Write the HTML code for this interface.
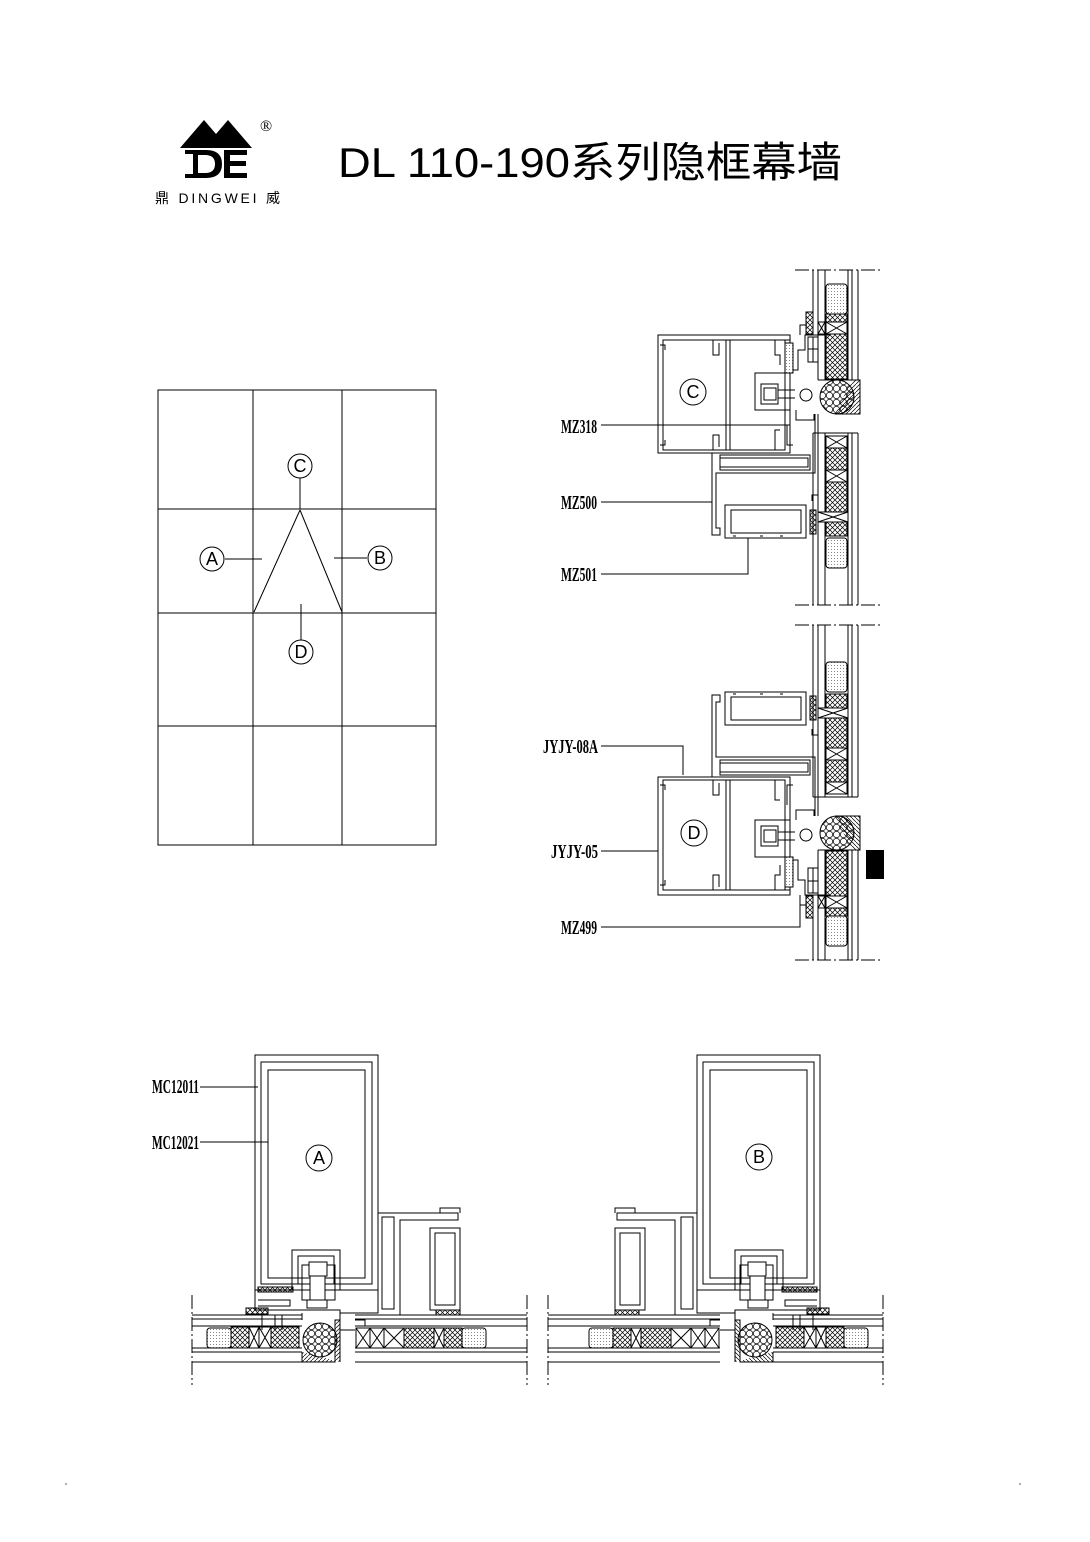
<!DOCTYPE html>
<html><head><meta charset="utf-8"><style>
html,body{margin:0;padding:0;background:#fff;}
svg{display:block;}
.l{font-family:"Liberation Serif",serif;font-weight:bold;font-size:20px;}
.c{font-family:"Liberation Sans",sans-serif;font-size:18px;}
</style></head><body>
<svg width="1090" height="1542" viewBox="0 0 1090 1542" xmlns="http://www.w3.org/2000/svg">
<defs>
<pattern id="hx" width="5" height="5" patternUnits="userSpaceOnUse">
<path d="M0,0L5,5M5,0L0,5" stroke="#000" stroke-width="0.7"/>
</pattern>
<pattern id="dt" width="3" height="3" patternUnits="userSpaceOnUse">
<rect width="3" height="3" fill="#fff"/><rect width="1" height="1" fill="#888"/>
</pattern>
<pattern id="cir" width="7" height="7" patternUnits="userSpaceOnUse">
<rect width="7" height="7" fill="#fff"/><circle cx="3.5" cy="3.5" r="3.2" fill="none" stroke="#000" stroke-width="0.7"/>
</pattern>
<pattern id="dg" width="4" height="4" patternUnits="userSpaceOnUse">
<path d="M0,4L4,0" stroke="#000" stroke-width="0.7"/>
</pattern>
</defs>

<!-- Section C (top-right, vertical) -->
<g id="secC" fill="none" stroke="#000" stroke-width="1">
 <line x1="795" y1="270" x2="880" y2="270" stroke-dasharray="14,3,2,3"/>
 <line x1="795" y1="605" x2="880" y2="605" stroke-dasharray="14,3,2,3"/>
 <path d="M813,270V333M818,270V380M825,270V380M848,270V380M852,270V380M858,270V380"/>
 <path d="M818,380H858"/>
 <rect x="826" y="284" width="21" height="30" fill="url(#dt)" rx="3"/>
 <rect x="826" y="314" width="21" height="8" fill="url(#hx)"/>
 <rect x="826" y="322" width="21" height="12" fill="#fff"/>
 <path d="M826,322L847,334M847,322L826,334"/>
 <rect x="826" y="334" width="21" height="45" fill="url(#hx)"/>
 <rect x="818" y="322" width="7" height="12" fill="#fff"/>
 <path d="M818,322L825,334M825,322L818,334"/>
 <rect x="806" y="312" width="7" height="22" fill="url(#hx)"/>
 <path d="M806,312H813M806,312V333"/>
 <circle cx="837" cy="397" r="17" fill="url(#cir)"/>
 <path d="M852,380H860V414H835" fill="url(#dg)"/>
 <path d="M813,433V605M818,433V605M825,433V605M848,433V605M852,433V605M858,433V605M813,433H858"/>
 <rect x="826" y="436" width="21" height="12" fill="#fff"/>
 <path d="M826,436L847,448M847,436L826,448"/>
 <rect x="826" y="448" width="21" height="22" fill="url(#hx)"/>
 <rect x="826" y="470" width="21" height="12" fill="#fff"/>
 <path d="M826,470L847,482M847,470L826,482"/>
 <rect x="826" y="482" width="21" height="30" fill="url(#hx)"/>
 <rect x="818" y="512" width="30" height="10" fill="#fff"/>
 <path d="M818,512L848,522M848,512L818,522"/>
 <rect x="826" y="522" width="21" height="14" fill="url(#hx)"/>
 <rect x="826" y="538" width="21" height="30" fill="url(#dt)" rx="3"/>
 <rect x="810" y="510" width="6" height="24" fill="url(#hx)"/>
 <rect x="658" y="335" width="132" height="118" fill="#fff"/>
 <rect x="663" y="340" width="122" height="110"/>
 <path d="M726,340V450M730,340V450"/>
 <path d="M713,340V355H719V343M713,450V435H719V447"/>
 <path d="M660,345h5v5M660,445h5v-5"/>
 <path d="M775,340V355H780V365M775,450V430H780"/>
 <path d="M755,373H790V410H755Z"/>
 <rect x="761" y="384" width="17" height="20" fill="#fff"/>
 <rect x="764" y="388" width="12" height="12" fill="#fff"/>
 <path d="M778,390H795M778,398H795"/>
 <circle cx="806" cy="395" r="6"/>
 <path d="M785,340h5v30h8v-20h7v-15h25M800,335v-10h7"/>
 <rect x="785" y="343" width="8" height="30" fill="url(#dt)"/>
 <rect x="808" y="337" width="10" height="25" fill="#fff"/>
 <path d="M808,349H818M813,337V362"/>
 <path d="M818,337V380"/>
 <path d="M796,410V420H814V414"/>
 <path d="M787,425v20h6"/>
 <path d="M712,453V535H720V528H716V473H815V414"/>
 <path d="M720,455H810V470H720Z"/>
 <path d="M720,458H808V467H720Z"/>
 <path d="M818,414V495H812V501"/>
 <path d="M725,505H806V538H725Z"/>
 <path d="M731,510H801V533H731Z"/>
 <path d="M733,536h3M760,536h3M780,536h3"/>
</g>
<g stroke="#000" stroke-width="1" fill="none">
 <path d="M601,425H790"/>
 <path d="M601,502H712"/>
 <path d="M601,574H748V538"/>
</g>

<use href="#secC" transform="translate(0,1230) scale(1,-1)"/>
<g stroke="#000" stroke-width="1" fill="none">
 <path d="M601,746H683V775"/>
 <path d="M601,851H658"/>
 <path d="M601,927H800V897"/>
</g>
<rect x="866" y="850" width="18" height="29" fill="#000"/>

<g id="secA" fill="none" stroke="#000" stroke-width="1">
 <path d="M192,1295V1385M527,1295V1385" stroke-dasharray="14,3,2,3"/>
 <path d="M192,1315H302M192,1319H302M192,1326H302M192,1348H302M192,1352H302M192,1362H302"/>
 <path d="M355,1315H527M355,1319H527M355,1326H527M355,1348H527M355,1352H527M355,1362H527"/>
 <rect x="207" y="1328" width="24" height="20" fill="url(#dt)" rx="3"/>
 <rect x="231" y="1327" width="18" height="21" fill="url(#hx)"/>
 <rect x="249" y="1327" width="10" height="21" fill="#fff"/><path d="M249,1327L259,1348M259,1327L249,1348"/>
 <rect x="259" y="1327" width="12" height="21" fill="#fff"/><path d="M259,1327L271,1348M271,1327L259,1348"/>
 <rect x="271" y="1327" width="28" height="21" fill="url(#hx)"/>
 <rect x="246" y="1308" width="22" height="6" fill="url(#hx)"/>
 <circle cx="320" cy="1340" r="17" fill="url(#cir)"/>
 <path d="M302,1352V1362H335V1320H340V1362" fill="url(#dg)"/>
 <rect x="356" y="1328" width="14" height="20" fill="#fff"/><path d="M356,1328L370,1348M370,1328L356,1348"/>
 <rect x="370" y="1328" width="14" height="20" fill="#fff"/><path d="M370,1328L384,1348M384,1328L370,1348"/>
 <rect x="384" y="1328" width="20" height="20" fill="#fff"/><path d="M384,1328L404,1348M404,1328L384,1348"/>
 <rect x="404" y="1328" width="30" height="20" fill="url(#hx)"/>
 <rect x="434" y="1328" width="10" height="20" fill="#fff"/><path d="M434,1328L444,1348M444,1328L434,1348"/>
 <rect x="444" y="1328" width="18" height="20" fill="url(#hx)"/>
 <rect x="462" y="1328" width="24" height="20" fill="url(#dt)" rx="3"/>
 <rect x="436" y="1310" width="24" height="5" fill="url(#hx)"/>
 <rect x="255" y="1055" width="123" height="235" fill="#fff"/>
 <rect x="261" y="1062" width="111" height="222"/>
 <rect x="268" y="1070" width="97" height="208"/>
 <path d="M292,1290V1250H340V1290"/>
 <path d="M298,1284V1256H334V1284"/>
 <path d="M302,1265H335V1300H302Z"/>
 <rect x="309" y="1262" width="18" height="14" fill="#fff"/>
 <rect x="310" y="1276" width="15" height="24" fill="#fff"/>
 <rect x="307" y="1300" width="20" height="8"/>
 <path d="M255,1290V1310H340V1313H378V1290"/>
 <rect x="258" y="1287" width="35" height="5" fill="url(#hx)"/>
 <path d="M258,1300H290V1306H258"/>
 <path d="M262,1315V1330M282,1315V1330M275,1315V1330M302,1313V1320"/>
 <path d="M340,1313V1330H355"/>
 <path d="M378,1213H458V1220H400V1315H378"/>
 <rect x="382" y="1217" width="12" height="92"/>
 <rect x="430" y="1228" width="30" height="82"/>
 <rect x="435" y="1233" width="20" height="72"/>
 <path d="M440,1213v-5h20v5"/>
 <path d="M355,1320h10v6"/>
</g>
<use href="#secA" transform="translate(1075,0) scale(-1,1)"/>
<g stroke="#000" stroke-width="1" fill="none">
 <path d="M200,1087H258M200,1142H268"/>
</g>

<g fill="none" stroke="#000" stroke-width="1">
 <rect x="158" y="390" width="278" height="455"/>
 <path d="M253,390V845M342,390V845M158,509H436M158,613H436M158,726H436"/>
 <path d="M300,510L254,612M300,510L342,612"/>
 <path d="M300,478V509M225,559H262M334,558H367M301,604V640"/>
 <circle cx="300" cy="466" r="12"/>
 <circle cx="212" cy="559" r="12"/>
 <circle cx="380" cy="558" r="12"/>
 <circle cx="301" cy="652" r="12"/>
 <circle cx="693" cy="392" r="13" fill="#fff"/>
 <circle cx="694" cy="833" r="13" fill="#fff"/>
 <circle cx="319" cy="1158" r="13" fill="#fff"/>
 <circle cx="759" cy="1157" r="13" fill="#fff"/>
</g>
<g class="c" text-anchor="middle" font-size="16">
 <text x="300" y="472">C</text>
 <text x="212" y="565">A</text>
 <text x="380" y="564">B</text>
 <text x="301" y="658">D</text>
 <text x="693" y="398">C</text>
 <text x="694" y="839">D</text>
 <text x="319" y="1164">A</text>
 <text x="759" y="1163">B</text>
</g>

<g class="l">
 <text x="561" y="433" textLength="36" lengthAdjust="spacingAndGlyphs">MZ318</text>
 <text x="561" y="509" textLength="36" lengthAdjust="spacingAndGlyphs">MZ500</text>
 <text x="561" y="581" textLength="36" lengthAdjust="spacingAndGlyphs">MZ501</text>
 <text x="543" y="753" textLength="55" lengthAdjust="spacingAndGlyphs">JYJY-08A</text>
 <text x="551" y="858" textLength="47" lengthAdjust="spacingAndGlyphs">JYJY-05</text>
 <text x="561" y="934" textLength="36" lengthAdjust="spacingAndGlyphs">MZ499</text>
 <text x="152" y="1093" textLength="47" lengthAdjust="spacingAndGlyphs">MC12011</text>
 <text x="152" y="1149" textLength="47" lengthAdjust="spacingAndGlyphs">MC12021</text>
</g>

<path d="M180,148L204,120L216,134L228,120L252,148Z" fill="#000"/>
<path d="M185,150H206Q222,150 222,164Q222,178 206,178H185V174H193V154H185Z" fill="#000"/>
<path d="M198,155V173H205Q215,173 215,164Q215,155 205,155Z" fill="#fff"/>
<path d="M224,150H247V155H230V161H246V166H230V173H247V178H224Z" fill="#000"/>
<text x="260" y="131" font-family="Liberation Serif,serif" font-size="16">®</text>
<text x="155" y="203" font-family="Liberation Sans,'Noto Sans CJK SC',sans-serif" font-size="14" textLength="125" lengthAdjust="spacing">鼎 DINGWEI 威</text>

<text x="338" y="177" font-family="'Liberation Sans','Noto Sans CJK SC',sans-serif" font-size="42" textLength="504" lengthAdjust="spacingAndGlyphs">DL 110-190系列隐框幕墙</text>

<circle cx="66" cy="1484" r="1" fill="#999"/>
<circle cx="1020" cy="1484" r="1" fill="#999"/>
</svg>
</body></html>
